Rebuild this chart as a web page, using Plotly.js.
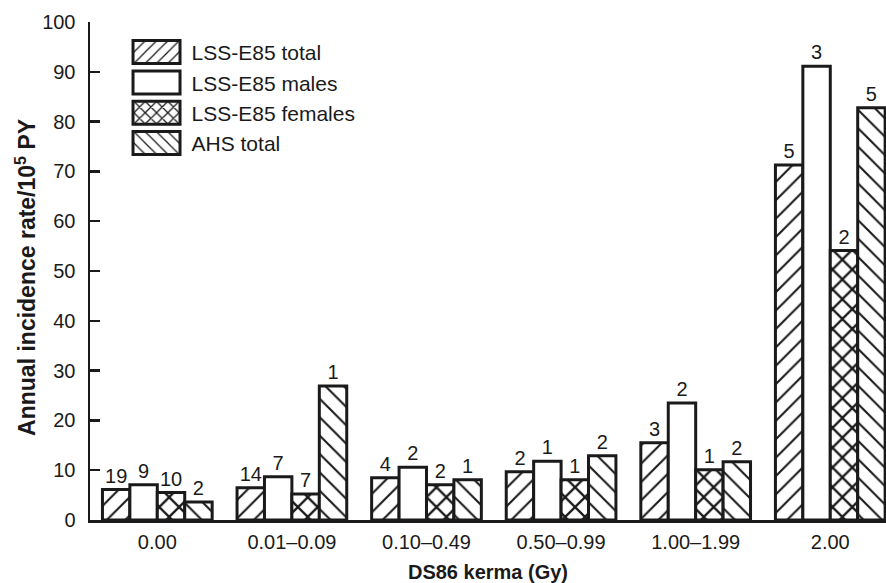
<!DOCTYPE html>
<html>
<head>
<meta charset="utf-8">
<script src="https://cdn.plot.ly/plotly-3.0.1.min.js"></script>
<style>
  html, body { margin: 0; padding: 0; background: #ffffff; }
  #chart { width: 886px; height: 583px; }
</style>
</head>
<body>
<div id="chart"></div>
<script>
// ---- data ----
const categories = ["0.00", "0.01\u20130.09", "0.10\u20130.49", "0.50\u20130.99", "1.00\u20131.99", "2.00"];

const lssTotal   = [6.1, 6.5, 8.5, 9.7, 15.5, 71.3];
const lssMales   = [7.1, 8.7, 10.6, 11.8, 23.5, 91.1];
const lssFemales = [5.5, 5.2, 7.1, 8.1, 10.1, 54.1];
const ahsTotal   = [3.6, 26.9, 8.1, 12.9, 11.7, 82.8];

const lssTotalCases   = ["19", "14", "4", "2", "3", "5"];
const lssMalesCases   = ["9", "7", "2", "1", "2", "3"];
const lssFemalesCases = ["10", "7", "2", "1", "1", "2"];
const ahsTotalCases   = ["2", "1", "1", "2", "2", "5"];

const seriesNames = ["LSS-E85 total", "LSS-E85 males", "LSS-E85 females", "AHS total"];

// ---- styling ----
const FONT = "Liberation Sans, Arial, Helvetica, sans-serif";
const INK = "#1a1a1a";

function barTrace(name, values, labels, shape, solidity, size) {
  return {
    type: "bar",
    name: name,
    x: categories,
    y: values,
    text: labels,
    textposition: "outside",
    constraintext: "none",
    cliponaxis: false,
    textfont: { family: FONT, size: 20, color: INK },
    marker: {
      color: "#ffffff",
      line: { color: INK, width: 3 },
      pattern: { shape: shape, size: size, solidity: solidity, fgcolor: INK, fgopacity: 1, bgcolor: "#ffffff", fillmode: "replace" }
    },
    hoverinfo: "skip"
  };
}

const data = [
  barTrace(seriesNames[0], lssTotal, lssTotalCases, "/", 0.16, 13),
  barTrace(seriesNames[1], lssMales, lssMalesCases, "", 0.16, 13),
  barTrace(seriesNames[2], lssFemales, lssFemalesCases, "x", 0.3, 14),
  barTrace(seriesNames[3], ahsTotal, ahsTotalCases, "\\", 0.16, 13)
];

const layout = {
  width: 886,
  height: 583,
  margin: { l: 90, r: 0, t: 22, b: 63, pad: 0 },
  paper_bgcolor: "#ffffff",
  plot_bgcolor: "#ffffff",
  font: { family: FONT, size: 20, color: INK },
  barmode: "group",
  bargap: 0.185,
  bargroupgap: 0,
  showlegend: true,
  legend: {
    x: 0.0396, y: 0.98, xanchor: "left", yanchor: "top",
    bgcolor: "rgba(0,0,0,0)",
    font: { family: FONT, size: 21, color: INK },
    tracegroupgap: 0,
    itemwidth: 60
  },
  xaxis: {
    type: "category",
    range: [-0.5, 5.414],
    showline: true, linecolor: INK, linewidth: 2.5,
    ticks: "", showgrid: false, zeroline: false,
    tickfont: { family: FONT, size: 20, color: INK },
    ticklabelstandoff: 2,
    title: { text: "<b>DS86 kerma (Gy)</b>", font: { family: FONT, size: 20, color: INK }, standoff: 14 }
  },
  yaxis: {
    range: [0, 100],
    dtick: 10,
    showline: true, linecolor: INK, linewidth: 2.5,
    ticks: "inside", ticklen: 10, tickwidth: 2.5, tickcolor: INK,
    showgrid: false, zeroline: false,
    tickfont: { family: FONT, size: 20, color: INK },
    ticklabelstandoff: 8,
    title: { text: "<b>Annual incidence rate/10<sup>5</sup> PY</b>&nbsp;&nbsp;", font: { family: FONT, size: 23, color: INK }, standoff: 0 }
  }
};

Plotly.newPlot("chart", data, layout, { displayModeBar: false, staticPlot: true }).then(function (gd) {
  // enlarge the legend swatches to the wide boxes of the reference
  gd.querySelectorAll(".legend .legendpoints path").forEach(function (p) {
    p.setAttribute("d", "M-23.5,-11.5H23.5V11.5H-23.5Z");
    p.style.strokeWidth = "3px";
    p.style.stroke = INK;
  });
});
</script>
</body>
</html>
